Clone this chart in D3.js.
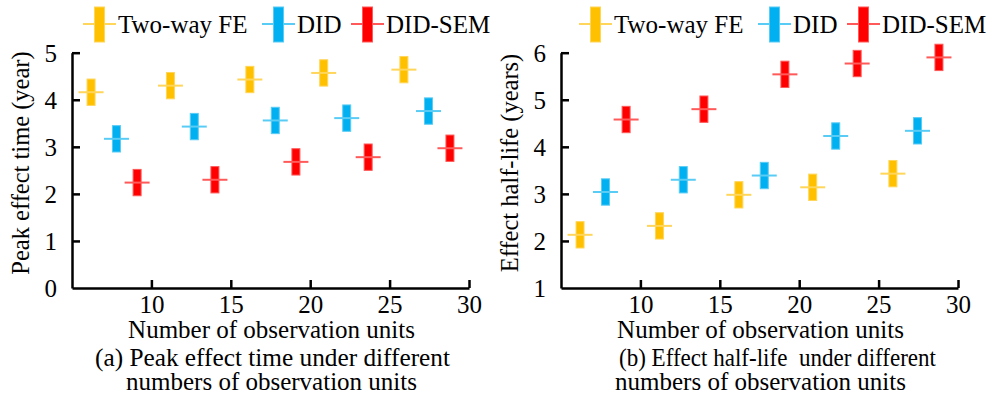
<!DOCTYPE html>
<html>
<head>
<meta charset="utf-8">
<script src="https://cdn.jsdelivr.net/npm/d3@7"></script>
<style>
  body { margin: 0; background: #fff; }
</style>
</head>
<body>
<div class="chart"></div>
<script>
// data
const seriesNames = ["Two-way FE", "DID", "DID-SEM"];
const seriesColors = ["#FFC000", "#00B0F0", "#FF0000"];
const xTicks = [10, 15, 20, 25, 30];

// x positions (number of observation units) per series
const xFE = [6.2, 11.2, 16.2, 20.85, 25.9];
const xDID = [7.8, 12.7, 17.8, 22.3, 27.45];
const xSEM = [9.1, 14.0, 19.1, 23.65, 28.8];

// (a) peak effect time
const peakFE = [4.16, 4.30, 4.43, 4.57, 4.64];
const peakDID = [3.17, 3.43, 3.56, 3.61, 3.76];
const peakSEM = [2.24, 2.30, 2.68, 2.78, 2.97];

// (b) effect half-life
const halfFE = [2.13, 2.32, 2.98, 3.14, 3.43];
const halfDID = [3.04, 3.30, 3.39, 4.23, 4.34];
const halfSEM = [4.58, 4.80, 5.54, 5.77, 5.90];

// half length of the vertical bars
const errFE = [0.28, 0.28, 0.28, 0.28, 0.28];
const errDID = [0.28, 0.28, 0.28, 0.28, 0.28];
const errSEM = [0.28, 0.28, 0.28, 0.28, 0.28];

const FONT = "'Liberation Serif', 'Times New Roman', Times, 'Nimbus Roman', 'DejaVu Serif', serif";

const width = 987;
const height = 401;

const svg = d3.select(".chart").append("svg")
  .attr("width", width)
  .attr("height", height)
  .style("font-family", FONT);

function lighter(c) {
  return d3.interpolateRgb(c, "#fff")(0.35);
}

function label(sel) {
  return sel.style("font-family", FONT).attr("fill", "#000");
}

function panel(opt) {
  const x = d3.scaleLinear().domain([5, 30]).range([opt.left, opt.left + 397]);
  const y = d3.scaleLinear().domain(opt.yDomain).range([288, 52.7]);

  const g = svg.append("g");

  const series = [
    { xs: xFE, ys: opt.data[0], es: errFE, color: seriesColors[0] },
    { xs: xDID, ys: opt.data[1], es: errDID, color: seriesColors[1] },
    { xs: xSEM, ys: opt.data[2], es: errSEM, color: seriesColors[2] }
  ];

  // axes
  const xAxis = g.append("g")
    .attr("transform", "translate(0,288)")
    .call(d3.axisBottom(x).tickValues(xTicks).tickFormat(d3.format("d"))
      .tickSizeInner(-8).tickSizeOuter(0));
  const yAxis = g.append("g")
    .attr("transform", "translate(" + opt.left + ",0)")
    .call(d3.axisLeft(y).tickValues(opt.yTicks).tickFormat(d3.format("d"))
      .tickSizeInner(-8).tickSizeOuter(0));

  [xAxis, yAxis].forEach(function(a) {
    a.attr("font-family", null).attr("font-size", null);
    a.select(".domain").attr("stroke", "#000").attr("stroke-width", 2.5);
    a.selectAll(".tick line").attr("stroke", "#000").attr("stroke-width", 2.5);
    label(a.selectAll(".tick text")).style("font-size", "25px");
  });
  // the corner tick (y minimum) has no tick line
  yAxis.selectAll(".tick").filter(function(d) { return d === opt.yDomain[0]; })
    .select("line").remove();
  xAxis.selectAll(".tick text").attr("dy", null).attr("y", 25);
  yAxis.selectAll(".tick text").attr("x", -15).attr("dy", "0.34em");

  // markers
  series.forEach(function(s) {
    const grp = g.append("g");
    s.ys.forEach(function(v, i) {
      const cx = x(s.xs[i]);
      grp.append("rect")
        .attr("x", cx - 4)
        .attr("width", 8)
        .attr("y", y(v + s.es[i]))
        .attr("height", y(v - s.es[i]) - y(v + s.es[i]))
        .attr("fill", s.color)
        .attr("stroke", lighter(s.color))
        .attr("stroke-width", 1);
      grp.append("line")
        .attr("x1", cx - 12.5)
        .attr("x2", cx + 12.5)
        .attr("y1", y(v))
        .attr("y2", y(v))
        .attr("stroke", lighter(s.color))
        .attr("stroke-width", 2);
    });
  });

  // axis titles
  label(g.append("text"))
    .attr("transform", "translate(" + opt.yLabelX + ",163) rotate(-90)")
    .style("text-anchor", "middle")
    .style("font-size", "24.5px")
    .text(opt.yLabel);

  const cx = (x.range()[0] + x.range()[1]) / 2 + 1;
  label(g.append("text"))
    .attr("x", cx)
    .attr("y", 338)
    .style("text-anchor", "middle")
    .style("font-size", "25px")
    .text("Number of observation units");

  label(g.append("text"))
    .attr("x", cx + opt.capShift)
    .attr("y", 366)
    .style("text-anchor", "middle")
    .style("font-size", "25px")
    .style("white-space", "pre")
    .attr("textLength", opt.capLen)
    .attr("lengthAdjust", "spacingAndGlyphs")
    .text(opt.caption1);

  label(g.append("text"))
    .attr("x", cx)
    .attr("y", 390)
    .style("text-anchor", "middle")
    .style("font-size", "25px")
    .text("numbers of observation units");

  // legend
  const legendX = [opt.legendLeft, opt.legendLeft + 179, opt.legendLeft + 268];
  seriesNames.forEach(function(name, i) {
    const lx = legendX[i];
    const lg = g.append("g");
    lg.append("line")
      .attr("x1", lx).attr("x2", lx + 33)
      .attr("y1", 24).attr("y2", 24)
      .attr("stroke", lighter(seriesColors[i]))
      .attr("stroke-width", 2);
    lg.append("rect")
      .attr("x", lx + 11.5).attr("width", 10)
      .attr("y", 7).attr("height", 35)
      .attr("fill", seriesColors[i])
      .attr("stroke", lighter(seriesColors[i]))
      .attr("stroke-width", 1);
    label(lg.append("text"))
      .attr("x", lx + 35)
      .attr("y", 33)
      .style("font-size", "25px")
      .text(name);
  });
}

panel({
  left: 72,
  yDomain: [0, 5],
  yTicks: [0, 1, 2, 3, 4, 5],
  data: [peakFE, peakDID, peakSEM],
  yLabel: "Peak effect time (year)",
  yLabelX: 29,
  caption1: "(a) Peak effect time under different",
  capShift: 1,
  capLen: 355,
  legendLeft: 83
});

panel({
  left: 561,
  yDomain: [1, 6],
  yTicks: [1, 2, 3, 4, 5, 6],
  data: [halfFE, halfDID, halfSEM],
  yLabel: "Effect half-life (years)",
  yLabelX: 518,
  caption1: "(b) Effect half-life  under different",
  capShift: 17,
  capLen: 317,
  legendLeft: 579
});
</script>
</body>
</html>
